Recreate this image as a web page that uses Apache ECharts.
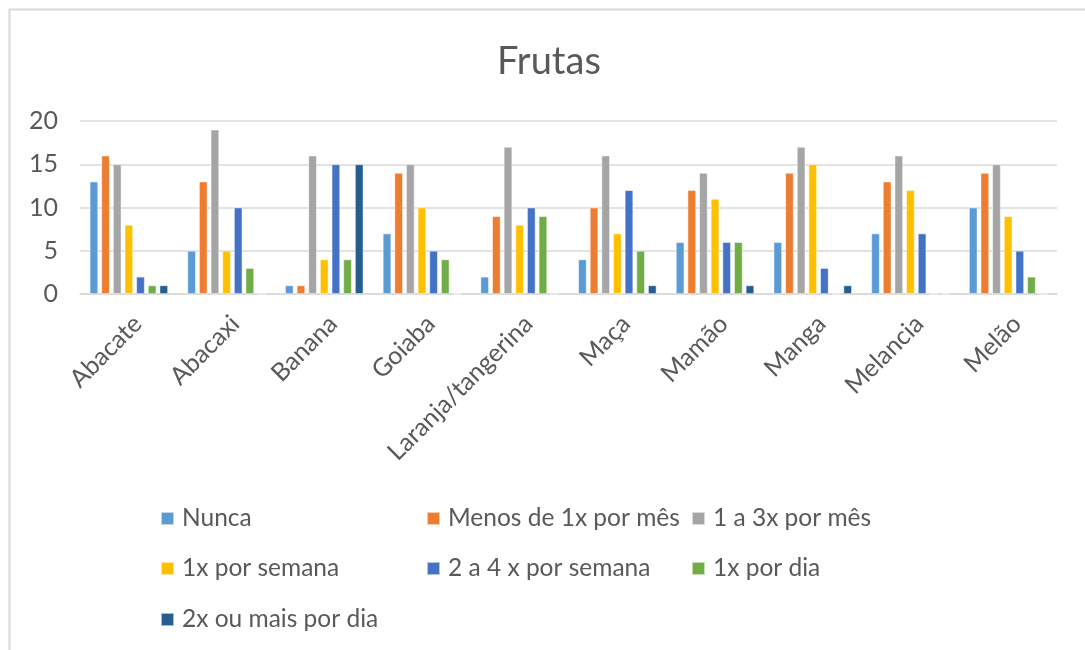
<!DOCTYPE html>
<html>
<head>
<meta charset="utf-8">
<script src="https://cdn.jsdelivr.net/npm/echarts@6/dist/echarts.min.js"></script>
<style>html,body{margin:0;padding:0;background:#fff;}#c{width:1085px;height:650px;}</style>
</head>
<body>
<div id="c"></div>
<script>
const categories = ['Abacate','Abacaxi','Banana','Goiaba','Laranja/tangerina','Maça','Mamão','Manga','Melancia','Melão'];
const seriesNames = ['Nunca','Menos de 1x por mês','1 a 3x por mês','1x por semana','2 a 4 x por semana','1x por dia','2x ou mais por dia'];
const nunca      = [13, 5, 1, 7, 2, 4, 6, 6, 7, 10];
const menos1xMes = [16,13, 1,14, 9,10,12,14,13,14];
const de1a3xMes  = [15,19,16,15,17,16,14,17,16,15];
const x1Semana   = [ 8, 5, 4,10, 8, 7,11,15,12, 9];
const de2a4Sem   = [ 2,10,15, 5,10,12, 6, 3, 7, 5];
const x1Dia      = [ 1, 3, 4, 4, 9, 5, 6, 0, 0, 2];
const x2ouMais   = [ 1, 0,15, 0, 0, 1, 1, 1, 0, 0];
const seriesData = [nunca, menos1xMes, de1a3xMes, x1Semana, de2a4Sem, x1Dia, x2ouMais];
const yTicks = [0, 5, 10, 15, 20];

const colors = ['#5B9BD5','#ED7D31','#A5A5A5','#FFC000','#4472C4','#70AD47','#255E91'];
const FONT = 'Lato';
const TXT = '#595959';

const legendPos = [
  [160, 519], [426, 519], [691, 519],
  [160, 569], [426, 569], [691, 569],
  [160, 620]
];

const chart = echarts.init(document.getElementById('c'), null, {renderer: 'canvas'});
chart.setOption({
  animation: false,
  color: colors,
  title: {
    text: 'Frutas', left: 497, top: 43, padding: 0,
    textStyle: {fontFamily: FONT, fontSize: 38, fontWeight: 'normal', color: TXT}
  },
  graphic: [{
    type: 'rect', shape: {x: 9.5, y: 9.5, width: 1200, height: 1000},
    style: {fill: 'none', stroke: '#d9d9d9', lineWidth: 2}, silent: true, z: -10
  }],
  legend: seriesNames.map((n, i) => ({
    data: [n], left: legendPos[i][0], top: legendPos[i][1] - 13, padding: 0,
    itemWidth: 13, itemHeight: 13, itemGap: 0,
    icon: 'rect',
    textStyle: {fontFamily: FONT, fontSize: 24.5, color: TXT, padding: [0, 0, 0, 3]}
  })),
  grid: {left: 80, right: 28, top: 121, bottom: 356},
  xAxis: {
    type: 'category', data: categories,
    axisLine: {lineStyle: {color: '#d9d9d9', width: 1.5}},
    axisTick: {show: false},
    axisLabel: {rotate: 45, margin: 17, verticalAlign: 'top', fontFamily: FONT, fontSize: 25, color: TXT, interval: 0}
  },
  yAxis: {
    type: 'value', min: yTicks[0], max: yTicks[yTicks.length - 1], interval: yTicks[1] - yTicks[0],
    axisLine: {show: false}, axisTick: {show: false},
    splitLine: {lineStyle: {color: '#d9d9d9', width: 1.5}},
    axisLabel: {margin: 22, fontFamily: FONT, fontSize: 25, color: TXT}
  },
  series: seriesNames.map((n, i) => ({
    name: n, type: 'bar', data: seriesData[i],
    barWidth: 8.5, barGap: '37%',
    itemStyle: {borderColor: 'rgba(255,255,255,0.6)', borderWidth: 0.8}
  }))
});
</script>
</body>
</html>
